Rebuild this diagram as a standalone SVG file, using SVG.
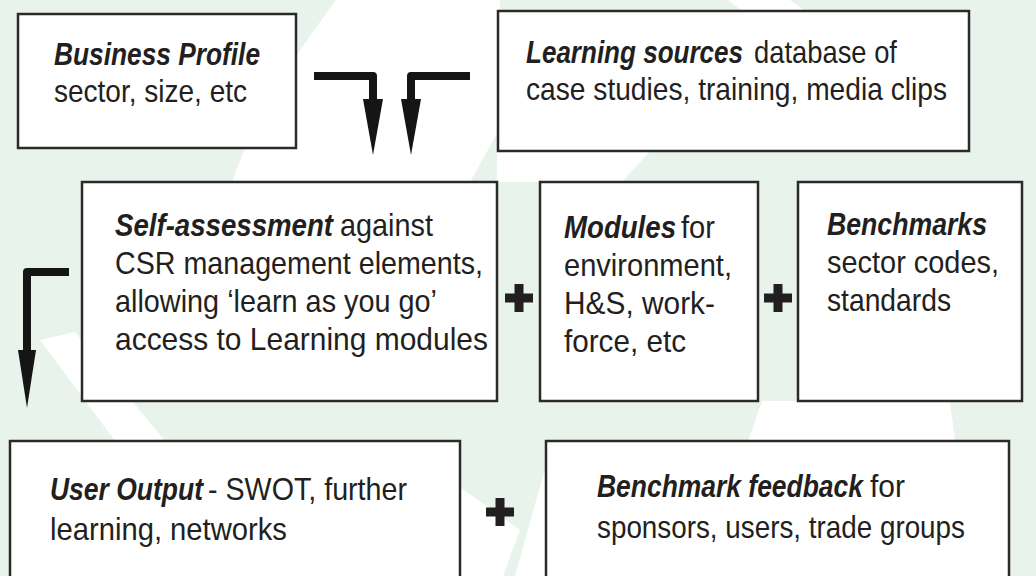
<svg xmlns="http://www.w3.org/2000/svg" width="1036" height="576" viewBox="0 0 1036 576">
<style>
.g{fill:#e8f3eb}
.w{fill:#ffffff}
.box{fill:#fff;stroke:#2a2a2a;stroke-width:2.5}
text{font-family:'Liberation Sans','Arial',sans-serif;font-size:31px;fill:#231f20}
.b{font-weight:bold;font-style:italic}
.conn{fill:none;stroke:#151515;stroke-width:8;stroke-linejoin:round}
.head{fill:#151515}
.plus{fill:#231f20}
</style>
<defs>
<path id="plus" d="M-4.5,-14 H4.5 V-4.5 H14 V4.5 H4.5 V14 H-4.5 V4.5 H-14 V-4.5 H-4.5 Z"/>
</defs>
<g id="background">
<rect class="g" x="0" y="0" width="1036" height="576"/>
<path class="w" d="M336,0 L500,0 L500,128 L470,182 L232,182 C255,115 295,55 336,0 Z"/>
<path class="w" d="M728,0 L790,0 L805,11 L742,11 Z"/>
<path class="w" d="M497,151 L650,151 L622,182 L497,182 Z"/>
<path class="w" d="M40,340 L75,332 L165,441 L115,441 Z"/>
<path class="w" d="M460,487 L520,530 L503,576 L460,576 Z"/>
<path class="w" d="M546,465 L546,576 L515,576 Z"/>
<path class="w" d="M762,401 L950,401 L955,441 L748,441 Z"/>
</g>
<g id="node-business-profile">
<rect class="box" x="18" y="14" width="278" height="134"/>
<text class="b" transform="translate(54,65) scale(.85,1)" textLength="242.4" lengthAdjust="spacingAndGlyphs">Business Profile</text>
<text transform="translate(54,102) scale(.85,1)" textLength="227.1" lengthAdjust="spacingAndGlyphs">sector, size, etc</text>
</g>
<g id="node-learning-sources">
<rect class="box" x="498" y="11" width="471" height="140"/>
<text class="b" transform="translate(526,63) scale(.85,1)" textLength="255.3" lengthAdjust="spacingAndGlyphs">Learning sources</text>
<text transform="translate(754,63) scale(.85,1)" textLength="168.2" lengthAdjust="spacingAndGlyphs">database of</text>
<text transform="translate(526,100) scale(.85,1)" textLength="495.3" lengthAdjust="spacingAndGlyphs">case studies, training, media clips</text>
</g>
<g id="node-self-assessment">
<rect class="box" x="82" y="182" width="415" height="219"/>
<text class="b" transform="translate(115,236) scale(.85,1)" textLength="256.5" lengthAdjust="spacingAndGlyphs">Self-assessment</text>
<text transform="translate(340,236) scale(.85,1)" textLength="109.4" lengthAdjust="spacingAndGlyphs">against</text>
<text transform="translate(115,274) scale(.85,1)" textLength="432.9" lengthAdjust="spacingAndGlyphs">CSR management elements,</text>
<text transform="translate(115,312) scale(.85,1)" textLength="378.8" lengthAdjust="spacingAndGlyphs">allowing ‘learn as you go’</text>
<text transform="translate(115,350) scale(.85,1)" textLength="438.8" lengthAdjust="spacingAndGlyphs">access to Learning modules</text>
</g>
<g id="node-modules">
<rect class="box" x="540" y="182" width="218" height="219"/>
<text class="b" transform="translate(564,238) scale(.85,1)" textLength="131.8" lengthAdjust="spacingAndGlyphs">Modules</text>
<text transform="translate(681,238) scale(.85,1)" textLength="40" lengthAdjust="spacingAndGlyphs">for</text>
<text transform="translate(564,276) scale(.85,1)" textLength="197.6" lengthAdjust="spacingAndGlyphs">environment,</text>
<text transform="translate(564,314) scale(.85,1)" textLength="177.6" lengthAdjust="spacingAndGlyphs">H&amp;S, work-</text>
<text transform="translate(564,352) scale(.85,1)" textLength="143.5" lengthAdjust="spacingAndGlyphs">force, etc</text>
</g>
<g id="node-benchmarks">
<rect class="box" x="798" y="182" width="224" height="219"/>
<text class="b" transform="translate(827,235) scale(.85,1)" textLength="188.2" lengthAdjust="spacingAndGlyphs">Benchmarks</text>
<text transform="translate(827,273) scale(.85,1)" textLength="202.4" lengthAdjust="spacingAndGlyphs">sector codes,</text>
<text transform="translate(827,311) scale(.85,1)" textLength="145.9" lengthAdjust="spacingAndGlyphs">standards</text>
</g>
<g id="node-user-output">
<rect class="box" x="10" y="441" width="450" height="145"/>
<text class="b" transform="translate(50,500) scale(.85,1)" textLength="180" lengthAdjust="spacingAndGlyphs">User Output</text>
<text transform="translate(208,500) scale(.85,1)" textLength="234.1" lengthAdjust="spacingAndGlyphs">- SWOT, further</text>
<text transform="translate(50,540) scale(.85,1)" textLength="278.8" lengthAdjust="spacingAndGlyphs">learning, networks</text>
</g>
<g id="node-benchmark-feedback">
<rect class="box" x="546" y="441" width="463" height="145"/>
<text class="b" transform="translate(597,497) scale(.85,1)" textLength="312.9" lengthAdjust="spacingAndGlyphs">Benchmark feedback</text>
<text transform="translate(870,497) scale(.85,1)" textLength="41.2" lengthAdjust="spacingAndGlyphs">for</text>
<text transform="translate(597,538) scale(.85,1)" textLength="432.9" lengthAdjust="spacingAndGlyphs">sponsors, users, trade groups</text>
</g>
<g id="connectors">
<path class="conn" d="M314,76 H373 V102"/>
<polygon class="head" points="363,99 383,99 373,155"/>
<path class="conn" d="M470,76 H411 V102"/>
<polygon class="head" points="401,99 421,99 411,155"/>
<path class="conn" d="M69,272 H27 V352"/>
<polygon class="head" points="18,350 36,350 27,408"/>
</g>
<g id="plus-signs">
<use href="#plus" class="plus" x="519" y="298"/>
<use href="#plus" class="plus" x="778" y="298"/>
<use href="#plus" class="plus" x="500" y="512"/>
</g>
</svg>
